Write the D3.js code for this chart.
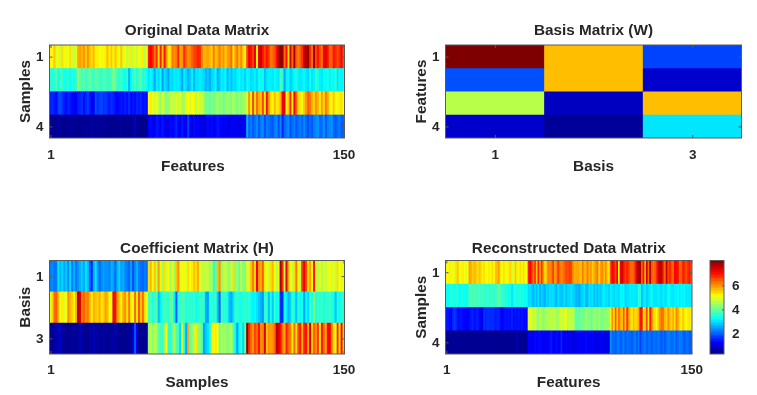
<!DOCTYPE html>
<html>
<head>
<meta charset="utf-8">
<script src="https://cdnjs.cloudflare.com/ajax/libs/d3/7.8.5/d3.min.js"></script>
<style>
  html, body { margin: 0; padding: 0; background: #fff; }
  svg { display: block; filter: blur(0.3px); }
  text { font-family: "Liberation Sans", Arial, sans-serif; font-weight: bold; fill: #262626; }
</style>
</head>
<body>
<div id="chart"></div>
<script>
// Values, one array per matrix row
var origRow1 = [5.2,5.2,5.6,4.9,5.2,4.7,5.4,5.2,4.9,5.1,5.4,4.8,4.7,5.0,5.8,5.9,5.7,6.0,5.5,6.0,5.6,5.4,5.7,5.2,5.3,5.1,5.0,5.2,5.3,5.7,5.2,5.6,5.0,5.6,5.3,5.0,5.6,4.9,5.2,4.7,4.8,5.3,4.7,5.0,4.7,5.1,4.9,5.3,4.6,5.0,
  7.0,7.2,6.9,6.2,6.8,5.4,6.9,5.6,7.0,6.0,5.3,5.4,6.2,6.0,6.2,6.8,5.8,6.0,6.8,6.3,6.0,6.1,6.4,6.6,6.7,6.9,6.8,6.1,5.7,5.8,5.9,5.7,5.5,6.2,5.6,5.8,6.2,5.7,6.0,5.5,5.9,6.0,6.3,5.3,5.9,6.2,5.6,6.1,5.5,5.2,
  6.6,7.2,7.0,6.6,7.3,5.2,7.3,7.5,7.0,6.6,7.0,6.7,6.2,6.3,6.5,7.0,7.6,8.0,7.9,6.3,7.0,5.4,7.5,6.3,7.8,6.4,6.1,6.4,6.8,7.5,7.8,7.9,6.8,6.2,7.9,6.6,7.0,6.5,6.2,7.2,7.3,7.0,6.3,6.4,7.0,6.8,6.5,6.8,7.2,6.5];
var origRow2 = [3.5,3.4,3.6,3.8,3.3,3.7,3.6,3.3,3.4,3.5,3.2,3.5,3.4,3.6,4.3,3.9,3.7,3.9,3.6,3.8,4.0,3.7,3.6,3.9,3.8,3.7,3.5,3.9,3.7,3.6,3.6,3.8,4.3,3.9,3.6,3.5,3.7,3.4,3.3,3.5,2.6,3.2,3.5,3.8,3.4,3.7,3.9,3.4,3.6,3.2,
  3.0,3.2,3.0,2.5,3.1,2.9,3.2,2.4,3.0,2.8,2.5,3.0,2.9,3.1,3.0,3.1,2.9,2.5,3.1,2.9,2.6,2.8,3.1,2.6,3.0,3.0,3.1,3.0,2.9,2.6,2.8,2.5,2.9,3.0,3.2,2.5,2.8,3.1,3.0,3.2,2.6,3.0,2.7,3.0,2.9,3.1,3.2,3.0,3.1,2.8,
  3.2,3.1,2.9,3.0,3.1,2.9,3.3,3.2,3.3,2.7,3.0,3.1,3.1,3.0,3.2,3.1,3.0,3.8,3.5,2.5,3.1,3.2,2.8,3.0,3.2,3.4,3.1,3.0,3.1,3.2,3.0,2.9,3.3,3.0,3.1,3.6,3.3,3.1,3.0,3.2,3.2,3.5,3.1,3.3,3.2,3.6,3.0,3.2,3.1,3.3];
var origRow3 = [1.5,1.5,1.4,1.3,1.7,1.8,1.6,1.4,1.3,1.5,1.4,1.2,1.2,1.1,1.4,1.5,1.6,1.3,1.5,1.7,1.4,1.2,1.1,1.8,1.6,1.7,1.8,1.6,1.7,1.5,1.4,1.6,1.5,1.3,1.2,1.3,1.4,1.3,1.5,1.3,1.6,1.2,1.4,1.3,1.5,1.4,1.5,1.3,1.4,1.3,
  5.2,5.3,5.0,4.7,5.1,4.6,4.3,4.9,4.5,4.2,4.4,4.6,4.8,4.6,4.9,4.7,4.9,4.4,4.5,5.0,5.2,4.8,5.1,5.2,4.6,5.0,4.7,4.8,4.4,4.0,4.1,3.9,4.2,4.0,4.3,4.5,4.1,4.4,4.0,4.2,4.5,4.3,4.1,4.6,4.3,4.1,4.4,4.2,4.4,4.5,
  4.8,6.0,5.2,6.6,5.4,6.3,5.8,5.6,6.6,5.3,7.0,6.0,5.4,5.2,5.7,5.3,5.4,5.8,7.2,7.2,5.0,5.6,6.8,5.2,7.2,6.3,5.5,5.3,5.0,5.6,6.0,6.4,6.2,5.7,5.5,6.0,5.7,5.3,5.9,5.4,6.2,5.8,5.3,5.0,5.6,5.2,5.0,5.3,5.4,5.1];
var origRow4 = [0.4,0.4,0.35,0.4,0.5,0.4,0.4,0.35,0.4,0.4,0.5,0.4,0.4,0.4,0.35,0.4,0.4,0.4,0.5,0.4,0.4,0.6,0.4,0.4,0.5,0.4,0.4,0.5,0.4,0.4,0.35,0.35,0.4,0.4,0.35,0.4,0.5,0.4,0.35,0.4,0.4,0.35,0.5,0.7,0.4,0.35,0.4,0.35,0.4,0.35,
  1.2,1.3,1.2,1.1,1.4,1.3,1.2,1.4,1.2,1.1,1.0,1.3,1.2,1.3,1.5,1.2,1.1,1.4,1.2,1.1,1.7,1.2,1.0,1.3,1.1,1.2,1.1,1.0,1.0,1.1,1.3,1.1,1.3,1.2,1.1,1.4,1.3,1.2,1.1,1.2,1.1,1.0,1.2,1.1,1.2,1.0,1.1,1.0,1.2,1.1,
  2.6,2.0,2.2,1.9,2.1,2.3,1.9,2.2,2.3,1.8,2.2,2.1,2.0,1.9,2.2,2.3,1.8,2.3,1.5,2.0,2.2,2.3,1.8,2.1,2.2,1.9,2.1,2.2,2.0,2.3,2.0,1.8,2.1,1.9,2.2,2.3,2.4,2.0,2.1,2.4,1.9,2.2,2.3,2.4,2.0,1.9,2.1,2.2,1.9,2.0];

var basisRow1 = [8.1,5.65,1.75];
var basisRow2 = [1.85,5.65,0.85];
var basisRow3 = [4.6,0.75,5.65];
var basisRow4 = [0.85,0.45,3.0];

var coefRow1 = [2.2,2.3,2.1,2.2,3.0,2.6,2.9,2.5,2.8,2.3,2.9,2.2,2.6,2.1,2.4,2.6,2.8,2.5,3.0,2.7,2.0,1.5,2.6,3.0,2.4,2.0,2.3,2.5,2.3,2.4,2.2,2.6,2.5,2.0,2.6,2.9,2.4,2.6,2.3,2.2,2.0,2.5,1.8,2.3,2.6,2.2,2.1,2.0,2.2,2.1,
  5.4,5.7,5.0,5.6,4.6,5.9,5.2,4.4,5.4,4.8,5.2,4.4,4.9,4.5,5.6,6.0,4.9,5.2,5.0,4.9,5.4,5.1,5.3,5.6,5.4,5.8,4.9,4.7,4.6,4.8,4.7,4.4,4.6,3.5,3.8,5.6,6.0,4.3,4.6,4.8,4.4,4.3,4.7,5.4,4.2,4.4,3.9,4.8,4.1,4.2,
  5.0,4.8,5.6,6.2,5.4,7.2,6.0,5.8,6.4,5.3,5.0,4.8,5.4,5.7,5.1,4.6,5.0,7.8,6.8,4.6,7.3,5.8,5.0,4.7,5.4,6.2,5.1,4.6,6.7,7.2,6.5,5.4,5.9,5.2,7.0,4.8,4.6,5.0,4.5,4.9,4.7,4.9,5.2,4.8,5.0,4.7,5.4,5.1,4.8,5.2];
var coefRow2 = [5.0,5.5,6.3,6.4,5.7,5.0,5.3,4.9,5.1,6.0,5.7,5.5,5.2,5.8,7.7,7.4,6.2,6.4,6.0,6.2,5.7,5.2,5.8,5.6,5.5,5.8,5.3,5.5,5.9,5.7,5.1,5.0,7.2,7.0,6.0,5.6,5.2,5.8,6.0,5.3,6.2,5.3,5.0,6.3,5.3,6.5,5.6,6.3,5.4,5.0,
  3.7,3.8,3.4,3.6,3.9,2.7,3.1,3.5,3.7,3.6,3.5,4.0,3.9,3.1,1.9,3.5,3.6,3.8,3.7,3.4,3.6,3.5,3.5,3.6,3.3,3.4,3.7,3.5,3.6,2.6,2.4,3.4,3.6,3.4,3.7,2.8,1.9,3.7,3.4,3.6,3.3,2.7,2.5,3.0,3.5,3.6,3.4,3.3,3.5,3.6,
  3.4,3.6,3.3,3.1,3.2,3.0,2.8,2.6,2.4,3.5,3.6,2.7,3.4,2.8,3.6,3.2,3.5,1.5,1.6,3.4,3.1,2.6,2.9,3.6,3.3,2.7,3.5,3.2,3.4,2.5,3.2,2.9,3.6,3.4,4.2,3.4,3.6,3.5,3.7,3.3,3.6,3.5,3.7,3.4,3.3,2.7,3.5,3.2,3.6,3.4];
var coefRow3 = [0.4,0.4,0.5,0.6,0.7,0.8,0.5,0.4,0.4,0.35,0.4,0.5,0.4,0.5,0.4,0.7,0.5,0.4,0.35,0.4,0.6,0.4,0.8,0.4,0.6,0.4,0.4,0.6,0.4,0.4,0.4,0.5,0.5,0.6,0.4,0.4,0.35,0.4,0.35,0.4,0.5,0.4,0.9,1.9,1.0,0.4,0.4,0.35,0.4,0.5,
  4.4,4.6,4.3,4.6,4.4,3.9,3.7,3.6,4.4,5.2,3.5,3.4,4.1,4.5,3.8,3.6,2.9,5.0,3.4,2.5,5.8,3.9,4.3,4.8,5.3,4.3,4.1,3.9,2.5,2.8,3.0,3.2,5.2,5.2,5.3,5.1,4.0,4.6,4.3,4.5,4.1,4.4,4.7,3.8,3.2,2.4,3.2,3.6,2.9,3.9,
  8.0,6.8,6.3,6.0,6.6,6.3,7.0,6.0,6.1,7.4,5.6,6.0,5.9,6.0,6.3,7.6,7.4,7.0,6.2,5.8,6.9,6.4,6.1,5.3,6.3,5.4,6.6,6.9,5.7,6.9,7.0,5.8,7.4,5.5,6.4,6.0,6.7,5.3,7.0,6.3,5.8,7.1,7.2,6.2,5.4,5.0,6.8,5.3,7.2,5.5];

var reconRow1 = [5.2,5.1,5.3,5.0,5.2,4.9,5.4,5.6,5.2,5.0,5.3,5.1,4.9,5.1,5.9,5.8,5.5,5.7,5.6,5.3,5.6,5.5,5.2,5.4,5.1,5.0,5.3,5.2,5.4,5.1,5.6,5.7,5.9,5.3,5.1,5.4,5.2,5.0,5.3,5.5,4.8,5.0,5.6,5.3,5.0,5.4,5.2,5.4,5.0,5.1,
  6.9,7.1,6.8,6.1,6.8,5.6,6.9,5.8,6.8,6.0,5.4,5.6,6.2,6.0,6.2,6.7,5.9,6.1,6.7,6.3,6.0,6.2,6.4,6.6,6.5,6.7,6.6,6.1,5.8,5.8,5.9,5.7,5.6,6.2,5.7,5.8,6.2,5.7,6.0,5.5,5.8,6.0,6.2,5.4,5.9,6.1,5.6,6.1,5.5,5.3,
  6.6,7.2,7.0,6.5,7.3,5.0,7.3,7.4,7.0,6.6,6.9,6.7,6.3,6.3,6.4,6.9,7.4,7.8,7.7,6.4,7.0,5.6,7.5,6.3,7.8,6.5,6.2,6.4,6.8,7.4,7.6,7.7,6.8,6.3,7.6,6.6,6.9,6.5,6.3,7.1,7.1,7.0,6.3,6.4,6.9,6.8,6.5,6.8,7.0,6.5];
var reconRow2 = [3.3,3.2,3.4,3.5,3.4,3.3,3.5,3.4,3.2,3.3,3.4,3.3,3.2,3.3,3.9,3.8,3.7,3.8,3.6,3.7,3.8,3.6,3.7,3.6,3.5,3.7,3.5,3.6,3.7,3.5,3.6,3.7,4.0,3.7,3.6,3.5,3.4,3.5,3.3,3.4,3.0,3.3,3.5,3.4,3.3,3.5,3.3,3.4,3.2,3.3,
  2.9,3.0,2.8,2.6,2.9,2.7,3.0,2.5,2.9,2.7,2.6,2.9,2.8,3.0,2.9,3.0,2.8,2.6,3.0,2.8,2.7,2.8,3.0,2.7,2.9,2.9,3.0,2.9,2.8,2.6,2.7,2.5,2.8,2.9,3.0,2.6,2.7,3.0,2.9,3.0,2.7,2.9,2.7,2.9,2.8,3.0,3.1,2.9,3.0,2.8,
  3.1,3.0,2.9,3.0,3.0,2.9,3.2,3.1,3.2,2.8,3.0,3.0,3.1,3.0,3.1,3.0,3.0,3.5,3.4,2.7,3.0,3.1,2.8,3.0,3.1,3.3,3.0,3.0,3.0,3.1,3.0,2.9,3.1,3.0,3.0,3.3,3.2,3.0,3.0,3.1,3.1,3.2,3.0,3.2,3.1,3.2,3.0,3.1,3.0,3.1];
var reconRow3 = [1.4,1.4,1.3,1.2,1.5,1.7,1.5,1.3,1.3,1.4,1.3,1.2,1.2,1.1,1.3,1.4,1.5,1.3,1.4,1.5,1.3,1.2,1.1,1.6,1.5,1.6,1.6,1.5,1.6,1.5,1.4,1.5,1.5,1.3,1.2,1.3,1.4,1.3,1.4,1.3,1.5,1.2,1.4,1.3,1.4,1.3,1.4,1.3,1.3,1.2,
  4.9,5.0,4.8,4.6,4.8,4.5,4.3,4.7,4.4,4.2,4.4,4.5,4.6,4.5,4.7,4.6,4.7,4.4,4.4,4.8,4.9,4.7,4.9,5.0,4.5,4.8,4.6,4.7,4.3,3.9,4.0,3.9,4.1,4.0,4.2,4.4,4.1,4.3,4.0,4.1,4.4,4.2,4.1,4.4,4.2,4.1,4.3,4.2,4.3,4.4,
  5.0,6.0,5.3,6.5,5.5,6.3,5.8,5.6,6.5,5.4,6.8,6.0,5.5,5.3,5.7,5.4,5.5,5.8,7.0,7.0,5.2,5.6,6.6,5.3,7.0,6.2,5.5,5.4,5.1,5.6,6.0,6.3,6.2,5.7,5.5,6.0,5.7,5.4,5.8,5.4,6.1,5.8,5.4,5.1,5.6,5.3,5.1,5.3,5.4,5.2];
var reconRow4 = [0.4,0.4,0.4,0.4,0.45,0.4,0.4,0.4,0.4,0.4,0.4,0.4,0.4,0.4,0.4,0.4,0.45,0.4,0.45,0.4,0.4,0.45,0.4,0.4,0.45,0.4,0.4,0.4,0.4,0.4,0.4,0.4,0.4,0.4,0.4,0.4,0.45,0.4,0.4,0.4,0.4,0.4,0.45,0.6,0.4,0.4,0.4,0.4,0.4,0.4,
  1.2,1.2,1.2,1.1,1.3,1.2,1.2,1.3,1.2,1.1,1.1,1.2,1.2,1.3,1.4,1.2,1.1,1.3,1.2,1.1,1.5,1.2,1.1,1.2,1.1,1.2,1.1,1.0,1.0,1.1,1.2,1.1,1.2,1.2,1.1,1.3,1.2,1.2,1.1,1.2,1.1,1.0,1.1,1.1,1.2,1.0,1.1,1.0,1.1,1.1,
  2.4,2.0,2.1,1.9,2.1,2.2,1.9,2.1,2.2,1.9,2.1,2.1,2.0,1.9,2.1,2.2,1.9,2.2,1.7,2.0,2.1,2.2,1.9,2.1,2.1,1.9,2.1,2.1,2.0,2.2,2.0,1.9,2.1,1.9,2.1,2.2,2.2,2.0,2.1,2.2,1.9,2.1,2.2,2.2,2.0,1.9,2.1,2.1,1.9,2.0];

var features = d3.range(1, 151);
var basisCols = [1, 2, 3];
var rowsFour = [1, 2, 3, 4];
var rowsThree = [1, 2, 3];

var colorDomain = [0.25, 8.1];
var colorTicks = [2, 4, 6];

// Create svg wrapper
var svg = d3.select("#chart")
  .append("svg")
  .attr("width", 757)
  .attr("height", 395);

// slight softening, the reference is a resampled bitmap
svg.append("defs").append("filter")
  .attr("id", "soft")
  .attr("x", "-2%").attr("y", "-2%").attr("width", "104%").attr("height", "104%")
  .attr("color-interpolation-filters", "sRGB")
  .append("feGaussianBlur")
  .attr("stdDeviation", "0.7 0.3");

// Jet colormap
var jet = d3.scaleLinear()
  .domain([0, 0.125, 0.375, 0.625, 0.875, 1].map(t => colorDomain[0] + t * (colorDomain[1] - colorDomain[0])))
  .range(["#00007f", "#0000ff", "#00ffff", "#ffff00", "#ff0000", "#7f0000"])
  .clamp(true);

var axisColor = "#5a5a5a";
var labelSize = 15.3;

function styleAxis(g) {
  g.select(".domain").remove();
  g.selectAll("line").attr("stroke", axisColor);
  g.selectAll("text").attr("font-size", 13.5).attr("fill", "#262626");
}

function drawPanel(p) {
  var g = svg.append("g").attr("transform", `translate(${p.left}, ${p.top})`);
  var w = p.width, h = p.height;

  var xScale = d3.scaleLinear().domain([0.5, p.cols.length + 0.5]).range([0, w]);
  var yScale = d3.scaleLinear().domain([0.5, p.rows.length + 0.5]).range([0, h]);

  // Cells, each one runs 1px under the next so no seams show between columns
  var cells = g.append("g").attr("filter", "url(#soft)");
  p.rows.forEach(function(rowId, i) {
    cells.selectAll(null)
      .data(p.values[i])
      .enter()
      .append("rect")
      .attr("x", (d, j) => xScale(p.cols[j] - 0.5))
      .attr("y", yScale(rowId - 0.5))
      .attr("width", (d, j) => xScale(p.cols[j] + 0.5) - xScale(p.cols[j] - 0.5) + (j < p.cols.length - 1 ? 1 : 0))
      .attr("height", yScale(rowId + 0.5) - yScale(rowId - 0.5) + (i < p.rows.length - 1 ? 1 : 0))
      .attr("fill", d => jet(d));
  });

  // Axes, ticks point inward on all four sides
  g.append("g").attr("transform", `translate(0, ${h})`)
    .call(d3.axisBottom(xScale).tickValues(p.xTicks).tickFormat(d3.format("d")).tickSize(-3).tickPadding(p.xTickPad))
    .call(styleAxis);
  g.append("g")
    .call(d3.axisTop(xScale).tickValues(p.xTicks).tickFormat("").tickSize(-3))
    .call(styleAxis);
  g.append("g")
    .call(d3.axisLeft(yScale).tickValues(p.yTicks).tickFormat(d3.format("d")).tickSize(-3).tickPadding(6))
    .call(styleAxis);
  g.append("g").attr("transform", `translate(${w}, 0)`)
    .call(d3.axisRight(yScale).tickValues(p.yTicks).tickFormat("").tickSize(-3))
    .call(styleAxis);

  // Box
  g.append("rect")
    .attr("width", w).attr("height", h)
    .attr("fill", "none")
    .attr("stroke", axisColor)
    .attr("stroke-width", 1);

  // Title and axis labels
  g.append("text")
    .attr("x", w / 2).attr("y", p.titleY)
    .attr("text-anchor", "middle").attr("font-size", labelSize)
    .text(p.title);
  g.append("text")
    .attr("x", w / 2 + (p.xLabelDx || 0)).attr("y", h + 33)
    .attr("text-anchor", "middle").attr("font-size", labelSize)
    .text(p.xLabel);
  g.append("text")
    .attr("transform", `translate(-20, ${h / 2}) rotate(-90)`)
    .attr("text-anchor", "middle").attr("font-size", labelSize)
    .text(p.yLabel);
}

drawPanel({
  title: "Original Data Matrix", xLabel: "Features", yLabel: "Samples",
  left: 49.5, top: 45, width: 295, height: 93, titleY: -10, xTickPad: 11, xLabelDx: -4,
  cols: features, rows: rowsFour, xTicks: [1, 150], yTicks: [1, 4],
  values: [origRow1, origRow2, origRow3, origRow4]
});
drawPanel({
  title: "Basis Matrix (W)", xLabel: "Basis", yLabel: "Features",
  left: 445.5, top: 45, width: 296, height: 93, titleY: -10, xTickPad: 11,
  cols: basisCols, rows: rowsFour, xTicks: [1, 3], yTicks: [1, 4],
  values: [basisRow1, basisRow2, basisRow3, basisRow4]
});
drawPanel({
  title: "Coefficient Matrix (H)", xLabel: "Samples", yLabel: "Basis",
  left: 49.5, top: 260.5, width: 295, height: 93.5, titleY: -7.5, xTickPad: 10,
  cols: features, rows: rowsThree, xTicks: [1, 150], yTicks: [1, 3],
  values: [coefRow1, coefRow2, coefRow3]
});
drawPanel({
  title: "Reconstructed Data Matrix", xLabel: "Features", yLabel: "Samples",
  left: 445.5, top: 260.5, width: 246.5, height: 93.5, titleY: -7.5, xTickPad: 10,
  cols: features, rows: rowsFour, xTicks: [1, 150], yTicks: [1, 4],
  values: [reconRow1, reconRow2, reconRow3, reconRow4]
});

// Colorbar
var barTop = 260.5, barHeight = 93.5, barLeft = 710, barWidth = 14;
var barScale = d3.scaleLinear().domain(colorDomain).range([barTop + barHeight, barTop]);
var barLevels = d3.range(64).map(i => colorDomain[0] + (i + 0.5) * (colorDomain[1] - colorDomain[0]) / 64);
var barStep = (colorDomain[1] - colorDomain[0]) / 64;

svg.append("g")
  .selectAll("rect")
  .data(barLevels)
  .enter()
  .append("rect")
  .attr("x", barLeft)
  .attr("y", d => barScale(d + barStep / 2))
  .attr("width", barWidth)
  .attr("height", d => barScale(d - barStep / 2) - barScale(d + barStep / 2))
  .attr("shape-rendering", "crispEdges")
  .attr("fill", d => jet(d));

svg.append("g").attr("transform", `translate(${barLeft + barWidth}, 0)`)
  .call(d3.axisRight(barScale).tickValues(colorTicks).tickFormat(d3.format("d")).tickSize(-2).tickPadding(8))
  .call(styleAxis);

svg.append("rect")
  .attr("x", barLeft).attr("y", barTop)
  .attr("width", barWidth).attr("height", barHeight)
  .attr("fill", "none")
  .attr("stroke", axisColor);
</script>
</body>
</html>
